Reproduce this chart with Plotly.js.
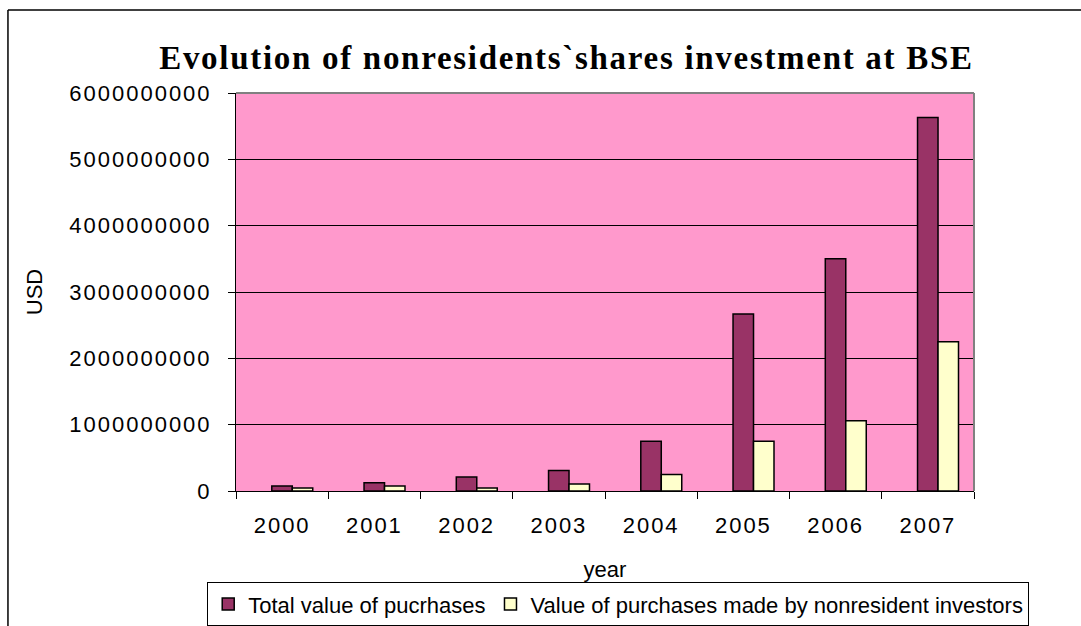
<!DOCTYPE html>
<html>
<head>
<meta charset="utf-8">
<script src="https://cdn.plot.ly/plotly-3.0.1.min.js"></script>
<style>
  body { margin: 0; background: #fff; }
  #chart { width: 1081px; height: 626px; }
  .xtick text, .ytick text { letter-spacing: 2px; }
  .gtitle { letter-spacing: 1.7px; }
</style>
</head>
<body>
<div id="chart"></div>
<script>
// Years on the x axis
var years = ['2000', '2001', '2002', '2003', '2004', '2005', '2006', '2007'];

// Values (USD)
var totalPurchases = [76000000, 126000000, 210000000, 310000000, 750000000, 2670000000, 3500000000, 5630000000];
var nonresidentPurchases = [45000000, 76000000, 45000000, 106000000, 250000000, 750000000, 1060000000, 2250000000];

var yTicks = [0, 1000000000, 2000000000, 3000000000, 4000000000, 5000000000, 6000000000];

var trace1 = {
  x: years,
  y: totalPurchases,
  name: 'Total value of pucrhases',
  type: 'bar',
  width: 0.222,
  offset: -0.112,
  marker: { color: '#993366', line: { color: '#000000', width: 1.5 } }
};

var trace2 = {
  x: years,
  y: nonresidentPurchases,
  name: 'Value of purchases made by nonresident investors',
  type: 'bar',
  width: 0.222,
  offset: 0.110,
  marker: { color: '#FFFFCC', line: { color: '#000000', width: 1.5 } }
};

var data = [trace1, trace2];

var font = { family: 'Liberation Sans, Arial, sans-serif', size: 22, color: '#000000' };

var layout = {
  width: 1081,
  height: 626,
  margin: { l: 236, r: 107, t: 93, b: 135, autoexpand: false },
  paper_bgcolor: '#ffffff',
  plot_bgcolor: '#FF99CC',
  font: font,
  showlegend: true,
  barmode: 'overlay',
  title: {
    text: 'Evolution of nonresidents`shares investment at BSE',
    font: { family: 'Liberation Serif, Times New Roman, serif', size: 33, color: '#000000', weight: 'bold' },
    xref: 'container', x: 0.524, xanchor: 'center',
    yref: 'container', y: 0.909, yanchor: 'middle'
  },
  xaxis: {
    type: 'category',
    range: [-0.5, 7.5],
    automargin: false,
    tickson: 'boundaries',
    ticks: 'outside',
    ticklen: 7,
    tickcolor: '#000000',
    showline: true,
    linecolor: '#000000',
    linewidth: 1,
    showgrid: false,
    tickfont: font,
    ticklabelstandoff: 15,
    title: { text: 'year', font: font, standoff: 24 }
  },
  yaxis: {
    range: [0, 6000000000],
    automargin: false,
    tickvals: yTicks,
    tickformat: 'd',
    ticks: 'outside',
    ticklen: 7,
    tickcolor: '#000000',
    showline: true,
    linecolor: '#000000',
    linewidth: 1,
    showgrid: true,
    gridcolor: '#000000',
    gridwidth: 1,
    zeroline: false,
    tickfont: font,
    ticklabelstandoff: 12,
    title: { text: 'USD', font: font, standoff: 20 }
  },
  legend: {
    orientation: 'h',
    x: -0.039, xanchor: 'left',
    y: -0.229, yanchor: 'top',
    bgcolor: '#ffffff',
    bordercolor: '#000000',
    borderwidth: 1,
    font: font,
    itemwidth: 30,
    traceorder: 'normal'
  },
  shapes: [
    // plot area border (grey top and right edges)
    { type: 'line', xref: 'paper', yref: 'paper', x0: 0, x1: 1, y0: 1, y1: 1, line: { color: '#808080', width: 2 } },
    { type: 'line', xref: 'paper', yref: 'paper', x0: 1, x1: 1, y0: 0, y1: 1, line: { color: '#808080', width: 2 } },
    // chart area border
    { type: 'line', xref: 'paper', yref: 'paper', x0: -0.309, x1: 1.2, y0: 1.2085, y1: 1.2085, line: { color: '#000000', width: 1.5 } },
    { type: 'line', xref: 'paper', yref: 'paper', x0: -0.309, x1: -0.309, y0: 1.2085, y1: -0.4, line: { color: '#000000', width: 1.5 } }
  ]
};

Plotly.newPlot('chart', data, layout, { staticPlot: true, displayModeBar: false });
</script>
</body>
</html>
